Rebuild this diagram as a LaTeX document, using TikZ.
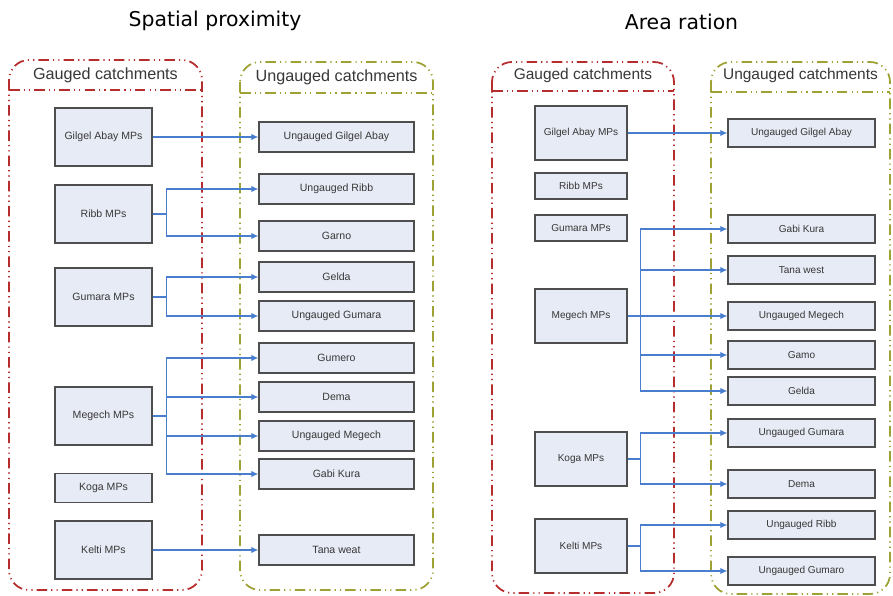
\documentclass[tikz,border=0pt]{standalone}
\usepackage{xcolor}
\usepackage{fontspec}
\setmainfont{Liberation Sans}
\newfontfamily\titlefont{DejaVu Sans}
\usepackage{tikz}
\usetikzlibrary{calc, positioning, arrows.meta}

\definecolor{gaugedred}{RGB}{182,45,45}
\definecolor{ungaugedolive}{RGB}{158,162,52}
\definecolor{boxfill}{RGB}{231,235,245}
\definecolor{boxline}{RGB}{78,78,78}
\definecolor{linkblue}{RGB}{72,126,205}
\definecolor{labelgray}{RGB}{55,55,55}

\begin{document}
\begin{tikzpicture}[x=0.03cm,y=-0.03cm,
    frame/.style={line width=1.5pt,rounded corners=0.6cm,
      dash pattern=on 9pt off 3.5pt on 1pt off 3.5pt on 1pt off 3.5pt},
    gauged/.style={frame,draw=gaugedred},
    ungauged/.style={frame,draw=ungaugedolive},
    header/.style={text=labelgray,font=\fontsize{13.8}{16}\selectfont},
    title/.style={text=black,font=\titlefont\fontsize{17.4}{20}\selectfont},
    mp node/.style={draw=boxline,fill=boxfill,line width=1.1pt,inner sep=1pt,
      text=labelgray,font=\fontsize{9}{10}\selectfont},
    big mp/.style={mp node,minimum width=2.91cm,minimum height=1.74cm},
    small mp/.style={mp node,minimum width=2.91cm,minimum height=0.87cm},
    target/.style={mp node,minimum width=4.65cm,minimum height=0.9cm},
    big mp2/.style={mp node,minimum width=2.76cm,minimum height=1.62cm,font=\fontsize{8.6}{10}\selectfont},
    small mp2/.style={mp node,minimum width=2.76cm,minimum height=0.78cm,font=\fontsize{8.6}{10}\selectfont},
    target2/.style={mp node,minimum width=4.41cm,minimum height=0.84cm,font=\fontsize{8.6}{10}\selectfont},
    link/.style={draw=linkblue,line width=1pt,-{Latex[length=6pt,width=5.5pt]}}]

  \useasboundingbox (0,0) rectangle (893,596);

  % spatial proximity
  \node[title] (sp-title) at (215,21) {Spatial proximity};

  \draw[gauged] (9,60) rectangle (202,590);
  \draw[gauged] (9,90) -- (202,90);
  \draw[ungauged] (240,62) rectangle (433,590);
  \draw[ungauged] (240,93) -- (433,93);
  \node[header] (sp-gauged) at (105.5,75) {Gauged catchments};
  \node[header] (sp-ungauged) at (336.5,77) {Ungauged catchments};

  \node[big mp] (sp-gilgel) at (103.5,137) {Gilgel Abay MPs};
  \node[big mp] (sp-ribb) at (103.5,214) {Ribb MPs};
  \node[big mp] (sp-gumara) at (103.5,297) {Gumara MPs};
  \node[big mp] (sp-megech) at (103.5,416) {Megech MPs};
  \node[small mp] (sp-koga) at (103.5,488) {Koga MPs};
  \node[big mp] (sp-kelti) at (103.5,550) {Kelti MPs};

  \node[target] (sp-ugilgel) at (336.5,137) {Ungauged Gilgel Abay};
  \node[target] (sp-uribb) at (336.5,189) {Ungauged Ribb};
  \node[target] (sp-garno) at (336.5,236) {Garno};
  \node[target] (sp-gelda) at (336.5,277) {Gelda};
  \node[target] (sp-ugumara) at (336.5,316) {Ungauged Gumara};
  \node[target] (sp-gumero) at (336.5,358) {Gumero};
  \node[target] (sp-dema) at (336.5,397) {Dema};
  \node[target] (sp-umegech) at (336.5,436) {Ungauged Megech};
  \node[target] (sp-gabi) at (336.5,474) {Gabi Kura};
  \node[target] (sp-tana) at (336.5,550) {Tana weat};

  \draw[link] (sp-gilgel.east) -- (sp-ugilgel.west);
  \foreach \t in {sp-uribb,sp-garno}
    \draw[link] (sp-ribb.east) -- ++(14,0) |- (\t.west);
  \foreach \t in {sp-gelda,sp-ugumara}
    \draw[link] (sp-gumara.east) -- ++(14,0) |- (\t.west);
  \foreach \t in {sp-gumero,sp-dema,sp-umegech,sp-gabi}
    \draw[link] (sp-megech.east) -- ++(14,0) |- (\t.west);
  \draw[link] (sp-kelti.east) -- (sp-tana.west);

  % area ratio
  \node[title] (ar-title) at (681.5,22) {Area ration};

  \draw[gauged] (492,62) rectangle (674,593);
  \draw[gauged] (492,91) -- (674,91);
  \draw[ungauged] (711,62) rectangle (890,594);
  \draw[ungauged] (711,92) -- (890,92);
  \node[header,font=\fontsize{13.2}{16}\selectfont] (ar-gauged) at (583,76) {Gauged catchments};
  \node[header,font=\fontsize{13.2}{16}\selectfont] (ar-ungauged) at (800.5,76) {Ungauged catchments};

  \node[big mp2] (ar-gilgel) at (581,133) {Gilgel Abay MPs};
  \node[small mp2] (ar-ribb) at (581,186) {Ribb MPs};
  \node[small mp2] (ar-gumara) at (581,228) {Gumara MPs};
  \node[big mp2] (ar-megech) at (581,316) {Megech MPs};
  \node[big mp2] (ar-koga) at (581,459) {Koga MPs};
  \node[big mp2] (ar-kelti) at (581,546) {Kelti MPs};

  \node[target2] (ar-ugilgel) at (801.5,133) {Ungauged Gilgel Abay};
  \node[target2] (ar-gabi) at (801.5,229) {Gabi Kura};
  \node[target2] (ar-tana) at (801.5,270) {Tana west};
  \node[target2] (ar-umegech) at (801.5,316) {Ungauged Megech};
  \node[target2] (ar-gamo) at (801.5,355) {Gamo};
  \node[target2] (ar-gelda) at (801.5,391) {Gelda};
  \node[target2] (ar-ugumara) at (801.5,433) {Ungauged Gumara};
  \node[target2] (ar-dema) at (801.5,484) {Dema};
  \node[target2] (ar-uribb) at (801.5,525) {Ungauged Ribb};
  \node[target2] (ar-ugumaro) at (801.5,571) {Ungauged Gumaro};

  \draw[link] (ar-gilgel.east) -- (ar-ugilgel.west);
  \foreach \t in {ar-gabi,ar-tana,ar-umegech,ar-gamo,ar-gelda}
    \draw[link] (ar-megech.east) -- ++(13,0) |- (\t.west);
  \foreach \t in {ar-ugumara,ar-dema}
    \draw[link] (ar-koga.east) -- ++(13,0) |- (\t.west);
  \foreach \t in {ar-uribb,ar-ugumaro}
    \draw[link] (ar-kelti.east) -- ++(13,0) |- (\t.west);
\end{tikzpicture}
\end{document}
